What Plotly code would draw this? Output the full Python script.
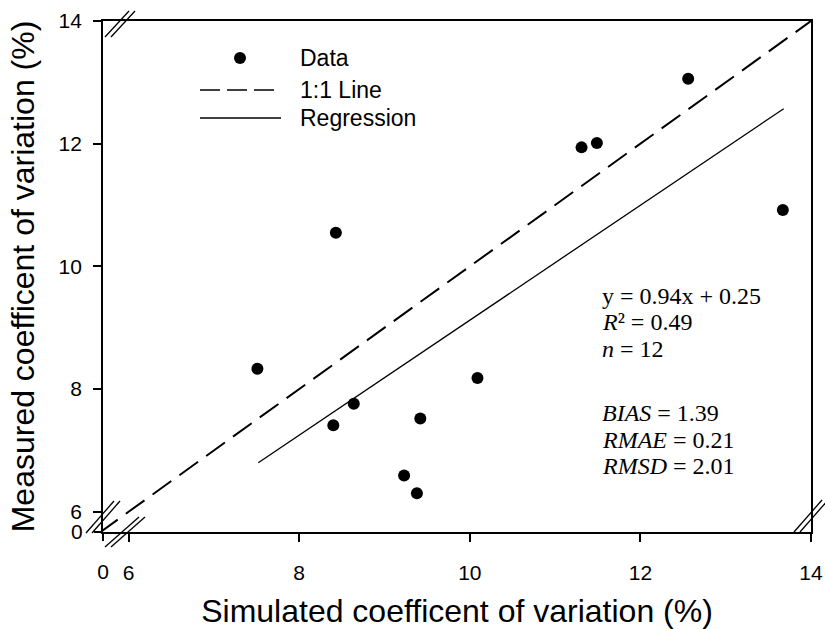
import plotly.graph_objects as go

# ---- data ----
sim_cv = [7.51, 8.40, 8.64, 8.43, 9.23, 9.38, 9.42, 10.09, 11.31, 11.49, 12.56, 13.67]
meas_cv = [8.33, 7.41, 7.76, 10.55, 6.59, 6.30, 7.52, 8.18, 11.94, 12.01, 13.06, 10.92]
one_to_one = [0, 14]
reg_x = [7.52, 13.68]
reg_y = [6.80, 12.57]
x_ticks = [6, 8, 10, 12, 14]
y_ticks = [6, 8, 10, 12, 14]
low_ticks = [0]
stats_lines = ["y = 0.94x + 0.25", "<i>R</i>² = 0.49", "<i>n</i> = 12",
               "<i>BIAS</i> = 1.39", "<i>RMAE</i> = 0.21", "<i>RMSD</i> = 2.01"]
legend_labels = ["Data", "1:1 Line", "Regression"]

# ---- geometry helpers (figure pixels -> paper) ----
W, H = 825, 629
ML, MR, MT, MB = 103, 14, 21, 97
PW, PH = W - ML - MR, H - MT - MB


def px(x):
    return (x - ML) / PW


def py(y):
    return (H - MB - y) / PH


SANS = "Arial, Liberation Sans, sans-serif"
SERIF = "Times New Roman, Liberation Serif, serif"

fig = go.Figure()
fig.add_trace(go.Scatter(x=one_to_one, y=one_to_one, mode="lines",
                         line=dict(color="black", width=2, dash="23px,10px"),
                         showlegend=False, hoverinfo="skip"))
fig.add_trace(go.Scatter(x=reg_x, y=reg_y, mode="lines",
                         line=dict(color="black", width=1.3),
                         showlegend=False))
fig.add_trace(go.Scatter(x=sim_cv, y=meas_cv, mode="markers",
                         marker=dict(color="black", size=12),
                         showlegend=False))
# empty trace to activate the low-segment axes
fig.add_trace(go.Scatter(x=[], y=[], xaxis="x2", yaxis="y2", showlegend=False))

axis_common = dict(showgrid=False, zeroline=False, ticks="outside",
                   tickcolor="black", ticklen=8, tickwidth=1.5, automargin=False,
                   tickfont=dict(family=SANS, size=21, color="black"))

fig.update_layout(
    width=W, height=H,
    margin=dict(l=ML, r=MR, t=MT, b=MB),
    plot_bgcolor="white", paper_bgcolor="white",
    xaxis=dict(range=[5.70, 14], tickvals=x_ticks, showline=True, mirror=True,
               linecolor="black", linewidth=1.8, ticklabelstandoff=13,
               title=dict(text="Simulated coefficent of variation (%)",
                          font=dict(family=SANS, size=32, color="black"),
                          standoff=20),
               **axis_common),
    yaxis=dict(range=[5.67, 14], tickvals=y_ticks, showline=True, mirror=True,
               linecolor="black", linewidth=1.8, ticklabelstandoff=7,
               title=dict(text="Measured coefficent of variation (%)",
                          font=dict(family=SANS, size=32, color="black"),
                          standoff=14),
               **axis_common),
    xaxis2=dict(overlaying="x", anchor="y", side="bottom", range=[0, 1],
                tickvals=low_ticks, showline=False, ticklabelstandoff=13,
                **axis_common),
    yaxis2=dict(overlaying="y", anchor="x", side="left", range=[0, 1],
                tickvals=low_ticks, showline=False, ticklabelstandoff=7,
                **axis_common),
)

shapes = []


def seg(x0, y0, x1, y1, width=1.3, dash=None):
    line = dict(color="black", width=width)
    if dash:
        line["dash"] = dash
    shapes.append(dict(type="line", xref="paper", yref="paper",
                       x0=px(x0), y0=py(y0), x1=px(x1), y1=py(y1), line=line))


def brk(cx, cy, hx=14, hy=15, off=3):
    for d in (-off, off):
        seg(cx + d - hx, cy + hy, cx + d + hx, cy - hy)


brk(120, 24, hx=12, hy=13)     # top axis break
brk(125, 532, hx=17, hy=15)    # bottom axis break
brk(103, 517, hx=14, hy=16)    # left axis break
brk(811, 516, hx=14, hy=16)    # right axis break

# legend
shapes.append(dict(type="circle", xref="paper", yref="paper",
                   x0=px(234), x1=px(246), y0=py(64), y1=py(52),
                   fillcolor="black", line=dict(color="black", width=0)))
seg(200, 90, 279, 90, width=1.3, dash="20px,7px")
seg(200, 118, 281, 118, width=1.3)

fig.update_layout(shapes=shapes)

annotations = []
for lbl, yy in zip(legend_labels, [58, 90, 118]):
    annotations.append(dict(text=lbl, xref="paper", yref="paper", x=px(298), y=py(yy),
                            xanchor="left", yanchor="middle", showarrow=False,
                            font=dict(family=SANS, size=23, color="black")))
for txt, yy in zip(stats_lines, [296, 322, 349, 413, 440, 466]):
    annotations.append(dict(text=txt, xref="paper", yref="paper", x=px(600), y=py(yy),
                            xanchor="left", yanchor="middle", showarrow=False,
                            font=dict(family=SERIF, size=24, color="black")))
fig.update_layout(annotations=annotations)

fig.write_html("out.html")
